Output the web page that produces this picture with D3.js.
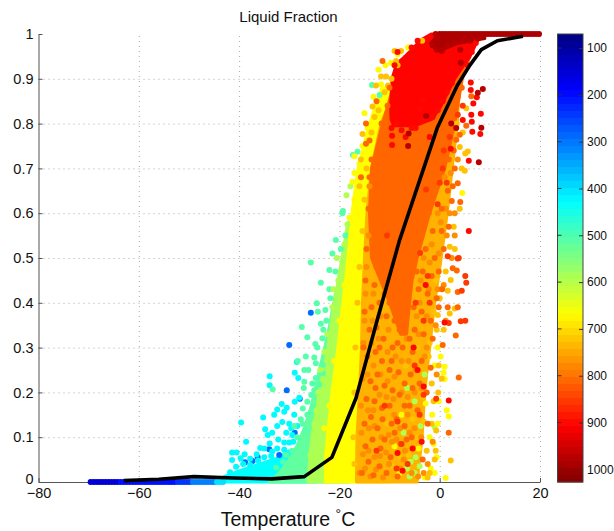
<!DOCTYPE html>
<html>
<head>
<meta charset="utf-8">
<script src="https://cdn.jsdelivr.net/npm/d3@7"></script>
<style>
  body { margin: 0; background: #fff; }
  text { font-family: "Liberation Sans", Arial, sans-serif; fill: #111; }
</style>
</head>
<body>
<div id="chart"></div>
<script>
// mean curve
const meanT  = [-63, -56, -49, -41, -33.5, -27, -21.5, -16.7, -12.5, -8, -3.5, -0.5, 3.5, 6, 8.3, 11.5, 16.6];
const meanLF = [0.003, 0.006, 0.012, 0.009, 0.007, 0.012, 0.055, 0.187, 0.36, 0.54, 0.69, 0.79, 0.885, 0.93, 0.965, 0.985, 0.995];

const xTicks = [-80, -60, -40, -20, 0, 20];
const yTicks = [0, 0.1, 0.2, 0.3, 0.4, 0.5, 0.6, 0.7, 0.8, 0.9, 1];
const cbTicks = [100, 200, 300, 400, 500, 600, 700, 800, 900, 1000];
const pressureRange = [70, 1027];

// where the dots overlap completely: outline of each solid patch, [liquid fraction, left T, right T], pressure
const bands = [
  { p: 430, rows: [[0, -43.5, -25], [0.012, -43, -25], [0.025, -40, -25], [0.04, -36, -25], [0.055, -32, -25], [0.07, -30, -25]] },
  { p: 520, rows: [[0, -34, -18], [0.02, -32, -18], [0.05, -30, -18], [0.08, -28.5, -18], [0.12, -27, -18], [0.17, -25.6, -18], [0.25, -24, -18], [0.33, -22.3, -17], [0.42, -20.8, -16]] },
  { p: 590, rows: [[0, -26.3, -18], [0.1, -25.5, -18], [0.2, -24, -18], [0.3, -22.3, -18], [0.4, -21, -17], [0.5, -19.5, -16], [0.58, -18.3, -15]] },
  { p: 668, rows: [[0, -22.8, -10], [0.05, -22.8, -10], [0.1, -22.4, -10], [0.2, -21.5, -10], [0.3, -20.3, -10], [0.4, -19.3, -10], [0.5, -18.3, -10], [0.6, -17.5, -10], [0.7, -16.3, -10], [0.8, -14, -9], [0.88, -11.5, -8]] },
  { p: 740, rows: [[0, -16.6, -4.5], [0.1, -16.5, -3.5], [0.2, -16, -3], [0.3, -15.6, -2], [0.4, -15.4, -1], [0.5, -15, 0.3], [0.6, -14.5, 1.5], [0.7, -13.6, 2.5], [0.8, -11.7, 3.5], [0.9, -8, 4]] },
  { p: 812, rows: [[0.33, -7.8, -6.6], [0.4, -10, -6], [0.45, -11.8, -5.5], [0.5, -13.6, -4.5], [0.6, -14, -2], [0.7, -13.6, 1], [0.8, -11.4, 3], [0.9, -8.8, 4.5], [0.95, -7, 6]] },
  { p: 905, rows: [[0.795, -9.2, -5], [0.81, -9.7, -1.5], [0.84, -9.8, 0.3], [0.90, -9.5, 3], [0.934, -8.6, 5], [0.949, -7, 6], [0.987, -3.7, 7.6], [1, -1.7, 8]] },
  { p: 985, rows: [[0.964, -0.7, 0.3], [0.979, -1.8, 3.5], [0.99, -1, 9], [1, 0, 9]] }
];

// dots on the zero line and on the one line
const zeroDark  = [-69.6, -69, -68.4, -67.8, -67.2, -66.6, -66, -65.4, -64.8, -64.2];
const zeroBlue  = [-63.6, -63, -62.4, -61.8, -61.2, -60.6, -60, -59.4, -58.8, -58.2, -57.6, -57, -56.4, -55.8, -55.2, -54.6, -54, -53.4, -52.8];
const zeroMid   = [-52.2, -51.6, -51, -50.4, -49.8];
const zeroLight = [-49.2, -48.6, -48, -47.4, -46.8, -46.2, -45.6, -45];
const zeroCyan  = [-44.4, -43.8, -43.2];
const oneDark   = [0, 0.6, 1.2, 1.8, 2.4, 3, 3.6, 4.2, 4.8, 5.4, 6, 6.6, 7.2, 7.8, 8.4, 9, 9.6, 10.2, 10.8, 11.4, 12, 12.6, 13.2, 13.8, 14.4, 15, 15.6, 16.2, 16.8, 17.4, 18, 18.6, 19.2, 19.8];

// individual dots, [temperature, liquid fraction]
const dotsBlue = [[-38.8, .044], [-37.3, .047], [-36.3, .056], [-34, .073], [-32, .06], [-28.9, .11], [-27.9, .186], [-30, .306], [-30.5, .205], [-25.7, .378]];
const dotsCyan = [[-39.6, .133], [-38.6, .09], [-41.4, .066], [-40.5, .066], [-41.4, .049], [-38.9, .062], [-39.7, .053], [-35.8, .076], [-35, .075], [-34.8, .118], [-35.2, .144], [-33.9, .236], [-33.9, .216], [-34.3, .105], [-33.4, .11], [-33.9, .086], [-33, .15], [-32.4, .162], [-31.5, .174], [-30.5, .166], [-31, .157], [-32.4, .125], [-31.4, .134], [-30, .13], [-28.9, .244], [-28.2, .232], [-28.5, .268], [-28.9, .179], [-28, .188], [-29, .15], [-30.6, .11], [-29.4, .105], [-32.2, .095], [-31, .088], [-36.5, .062], [-37.8, .052], [-33.4, .068], [-41.8, .022], [-40.6, .034], [-39.2, .04], [-37.8, .038], [-36.2, .048], [-35, .055], [-33.6, .058], [-32.4, .075], [-31, .072], [-30, .088], [-29.2, .09], [-28.4, .125], [-29.6, .12]];
const dotsGreen = [[-33.3, .207], [-27.5, .346], [-26.4, .323], [-24.8, .308], [-23.4, .321], [-23.7, .353], [-24.3, .38], [-22.8, .384], [-24.5, .399], [-28.3, .27], [-26.7, .28], [-25, .278], [-24.7, .265], [-27, .25], [-26.2, .25], [-24.7, .232], [-23.3, .261], [-27, .224], [-27.1, .21], [-23.3, .243], [-24, .217], [-26.4, .179], [-27.3, .164], [-25, .205], [-25.3, .168], [-25.6, .194], [-25.7, .49], [-23.7, .445], [-22, .473], [-20.7, .54], [-19.3, .605], [-17.3, .73], [-16.4, .737], [-13.5, .886], [-12, .864], [-19.4, .6], [-18.8, .55], [-19.7, .52], [-21.8, .41], [-22.6, .36], [-27.7, .14], [-29, .125], [-26.8, .115], [-30.6, .06], [-29.4, .07], [-28.4, .1], [-27.4, .13], [-26.4, .15], [-25.4, .22], [-24.4, .3], [-23.2, .34], [-22, .43], [-20.8, .47], [-21.4, .51], [-32.6, .032], [-31.2, .045]];
const dotsLime = [[-18.4, .575], [-20.5, .5], [-19.6, .47], [-21.2, .43], [-22.4, .33], [-23, .29], [-23.8, .25], [-24.6, .16], [-6.5, .03], [-5.8, .045], [-5, .02], [-4.8, .055], [-6, .012], [-4, .035], [-7.2, .11], [-5, .18], [-3.8, .125], [-1, .122], [-6.5, .21], [-3, .24], [-18.6, .64], [-17.8, .66], [-25.8, .06], [-25, .13], [-24.2, .2], [-21.4, .39], [-20.2, .45], [-19, .53]];
const dotsYellow = [[-6.3, .97], [-9.7, .936], [-11.7, .888], [-15, .823], [-17, .727], [-17, .69], [-17.4, .67], [-17, .63], [-18, .59], [4.5, .645], [0.97, .257], [0.8, .244], [1, .23], [1.4, .16], [1.8, .146], [1.2, .009], [-1.2, .085], [-0.6, .055], [-1.8, .03], [-3, .01], [-2, .1], [-1.5, .15], [-2.8, .175], [-1, .26], [-0.4, .3], [-8, .02], [-9, .08], [-4.2, .075], [-7.6, .15], [-12.2, .92], [-13.2, .86], [-14.4, .79], [-15.4, .75], [-16, .71], [-16.6, .6], [-17.6, .55], [-18, .5], [-19, .44], [-20, .36], [-21, .27], [-22, .17], [-23, .12], [-10.8, .93], [-8.4, .955], [-1, .02], [-0.4, .13], [-0.2, .18], [0.2, .28]];
const dotsAmber = [[-9, .962], [-7.7, .962], [-8.7, .94], [-8.4, .93], [-11.7, .905], [-10.7, .905], [-10.3, .885], [-12.7, .885], [-3.5, .985], [-13.4, .838], [-13, .815], [-15.4, .777], [-15.7, .72], [-16, .66], [5.3, .834], [5, .695], [4, .61], [4, .748], [5.6, .738], [5.1, .733], [2, .525], [2.2, .451], [1.6, .427], [3, .387], [2, .376], [-0.4, .373], [0.4, .231], [2.2, .048], [-0.3, .2], [-0.7, .115], [-0.8, .07], [-2, .02], [-1.2, .18], [-0.6, .34], [0, .41], [-2.2, .28], [-3.3, .19], [-4.4, .1], [-2.6, .07], [-3.2, .135], [-6.2, .06], [-7.8, .055], [-9.2, .035], [-1.6, .22], [-2, .31], [-1.2, .38], [-0.8, .45], [-10.4, .13], [-5.4, .14], [-6.8, .26], [-4.5, .3], [-9.6, .9], [-11, .87], [-12.2, .83], [-13.6, .78], [-14.6, .7], [-15, .63], [-15.4, .56], [-16, .48], [-16.4, .4], [-16.8, .3], [-17, .2], [-17.2, .1], [-17, .04], [2.8, .57], [3, .52], [1.2, .47], [0.8, .34], [-0.2, .26], [-1, .05], [-2.4, .01], [-1.6, .13], [3.4, .8], [4.4, .7], [4.6, .78]];
const dotsDeep = [[-16, .02], [-14.9, .03], [-13.8, .012], [-12.7, .028], [-11.3, .01], [-10.1, .04], [-7.9, .03], [-6.9, .07], [-5.6, .02], [-4.3, .012], [-15.3, .062], [-14.2, .07], [-13, .055], [-11.9, .058], [-10.7, .066], [-9.5, .09], [-8.6, .095], [-7.2, .05], [-6, .11], [-3.7, .1], [-15.6, .11], [-14.1, .12], [-13, .125], [-11.6, .1], [-10.2, .105], [-9.1, .15], [-7.9, .12], [-6.4, .15], [-5, .12], [-15.7, .17], [-14.3, .16], [-13.2, .16], [-12, .195], [-10.6, .19], [-9.2, .185], [-7.6, .2], [-6.4, .19], [-5, .2], [-3.6, .21], [-15.4, .23], [-14.4, .24], [-13.2, .26], [-11.8, .24], [-10.4, .225], [-9, .235], [-7.6, .27], [-6.2, .27], [-4.8, .25], [-3, .28], [-15.2, .31], [-13.6, .31], [-12.2, .32], [-10.4, .29], [-8.8, .28], [-6.6, .32], [-4.2, .33], [-2.6, .3], [-15, .36], [-13.4, .36], [-11.8, .37], [-10.2, .34], [-4.6, .37], [-2.6, .37], [-0.8, .35], [-14.8, .42], [-13.2, .42], [-4, .4], [-2.2, .43], [-0.4, .43], [-14.6, .48], [-3.8, .45], [-2, .49], [-0.2, .51], [-14.2, .55], [-3.2, .5], [-1.6, .53], [0.2, .58], [1.2, .61], [-14, .66], [-0.4, .6], [1, .68], [2.2, .69], [2, .6], [3, .55], [2.4, .5], [1.4, .55], [3, .6], [3.6, .72], [0.8, .44], [1.2, .36], [-0.6, .24], [-1.4, .09], [-2.4, .04], [-3.2, .02]];
const dotsOrange = [[-14.7, .8], [-14, .762], [-14.7, .755], [-15.7, .68], [3.4, .472], [2.6, .477], [3.6, .424], [0.5, .43], [1.6, .39], [3.6, .39], [3.2, .327], [0.6, .306], [3.8, .233], [1.8, .11], [2.4, .627], [4.1, .625], [3.6, .667], [3.3, .764], [4, .775], [5.3, .795], [6.3, .861],
  [-15.5, .02], [-14.2, .045], [-13.2, .015], [-12, .035], [-14.8, .08], [-13.4, .095], [-11.8, .075], [-10.6, .02], [-9.8, .055], [-8.4, .012], [-15, .13], [-13.7, .145], [-12.4, .12], [-11, .095], [-9, .11], [-7.8, .085], [-6.6, .095], [-14.6, .185], [-13, .18], [-11.5, .165], [-10, .17], [-8.6, .14], [-7, .125], [-5.6, .1], [-3.4, .05], [-13.8, .225], [-12.4, .24], [-11, .215], [-9.4, .205], [-8, .195], [-6, .17], [-4.4, .16], [-2.4, .13], [-14.4, .28], [-12.8, .29], [-11.5, .27], [-10, .25], [-8.2, .245], [-5.8, .24], [-4, .22], [-2.6, .2], [-14, .34], [-12.6, .345], [-11.2, .32], [-9.4, .3], [-7.4, .3], [-5.4, .29], [-3.6, .27], [-1.8, .255], [-13.6, .39], [-12, .4], [-10.6, .37], [-5, .34], [-3.2, .33], [-1.4, .32], [-13, .44], [-5.2, .39], [-3.6, .38], [-1.8, .36], [-0.2, .39], [-4.2, .43], [-2.4, .42], [-0.6, .41], [-3.4, .47], [-1.6, .46], [-0.2, .47], [-2.8, .52], [-1, .5], [0.8, .52], [-1.4, .56], [0.4, .56], [1.8, .57], [0.4, .61], [1.6, .65], [2.6, .66], [3, .7], [1.8, .72], [2.8, .74], [-14.2, .61], [-14.6, .52], [-14.8, .45], [-15, .38], [-15.2, .3],
  [-12.6, .48], [-12, .3], [-11, .42], [-10, .4], [-9, .36], [-8, .34], [-7, .36], [-9.6, .27], [-8.4, .31], [-7, .22], [-5.4, .21], [-7, .17], [-9.6, .13], [-11.4, .14], [-12.8, .21], [-6, .32], [-4.6, .47], [-3.6, .55], [-2.2, .6], [-1, .65], [-0.2, .72], [0.6, .76], [1.8, .8], [2.6, .84], [3.6, .86], [4.4, .88], [-11.4, .94], [-13.6, .72], [-14, .68], [-12.6, .85], [-11.6, .8], [-10.4, .84], [-10, .88]];
const dotsRedOrange = [[1.6, .504], [3.6, .499], [5.1, .46], [5.3, .445], [4.4, .427], [3.8, .5], [1.8, .355], [4.2, .359], [5.1, .36], [-0.7, .186], [-3.2, .195], [-2.7, .653], [0, .668], [1.4, .668], [-10.5, .55], [-3.9, .511], [-4, .15], [-6.4, .04], [-7.6, .085], [-8.4, .135], [-5, .26], [-3.2, .36], [-2, .4], [-8.6, .03], [-11, .17], [-12.6, .07], [-4.8, .4], [-2.4, .46], [0.6, .7], [2, .77], [3.6, .82], [4.6, .84], [-0.4, .62], [0.8, .74]];
const dotsRed = [[8.2, .822], [6.3, .82], [4.6, .808], [6.4, .804], [8.1, .777], [6.5, .782], [5.8, .717], [6.2, .875], [6.2, .892], [7.4, .859], [6.7, .845], [2.2, .744], [5.8, .56], [0.97, .356], [1.8, .182], [-9.5, .773], [-9.5, .752], [-2, .77], [-4, .832], [-3.4, .853], [-3.2, .213], [-3.6, .09], [-5.4, .075], [-4.4, .25], [-7.4, .025], [-8.4, .065], [-2.8, .44], [-5.2, .3], [-9.6, .79], [-8.6, .8], [-7.6, .785], [-6.8, .77], [-5.6, .79], [-4.8, .79], [-3.6, .805], [-2.8, .81], [-1.4, .815], [-0.4, .83], [0.6, .85], [1.4, .87], [2.4, .89], [-8.4, .96], [-9, .93], [-5.6, .97], [-4.4, .985], [5.6, .93], [6.4, .96], [7.2, .98]];
const dotsDark = [[8.6, .877], [7.6, .869], [8.3, .791], [3.3, .79], [2.3, .8], [7.8, .714], [-6.2, .778], [-6.3, .75], [-2.7, .817], [4.2, .936], [4.1, .965], [-1.4, .975], [-0.6, .965], [0.4, .962], [1.6, .975], [3, .98], [4.6, .985], [6, .985], [-0.8, 1], [-0.4, .99], [7.6, .99]];

const dotSeries = [
  { p: 150, t: zeroDark }, { p: 205, t: zeroBlue }, { p: 240, t: zeroMid }, { p: 310, t: zeroLight }, { p: 400, t: zeroCyan },
  { p: 290, pts: dotsBlue }, { p: 425, pts: dotsCyan }, { p: 510, pts: dotsGreen }, { p: 595, pts: dotsLime },
  { p: 672, pts: dotsYellow }, { p: 725, pts: dotsAmber }, { p: 775, pts: dotsDeep }, { p: 810, pts: dotsOrange }, { p: 855, pts: dotsRedOrange },
  { p: 900, pts: dotsRed }, { p: 975, pts: dotsDark }, { p: 985, one: oneDark }
];

const width = 614, height = 531;
const plot = { left: 38.5, right: 540, top: 34, bottom: 482 };
const dotR = 3;

const svg = d3.select("#chart").append("svg")
  .attr("width", width)
  .attr("height", height)
  .style("display", "block");

const xScale = d3.scaleLinear().domain([-80, 20]).range([plot.left, plot.right]);
const yScale = d3.scaleLinear().domain([0, 1]).range([plot.bottom, plot.top]);

// jet colormap
const jet = d3.scaleLinear()
  .domain([0, 0.125, 0.375, 0.625, 0.875, 1])
  .range(["#000080", "#0000ff", "#00ffff", "#ffff00", "#ff0000", "#800000"])
  .clamp(true);
const pressureFrac = d3.scaleLinear().domain(pressureRange).range([0, 1]);
const colorOf = p => jet(pressureFrac(p));

// grid
const gridX = svg.append("g")
  .attr("transform", `translate(0,${plot.bottom})`)
  .call(d3.axisBottom(xScale).tickValues(xTicks.slice(1)).tickSize(-(plot.bottom - plot.top)).tickFormat(""));
const gridY = svg.append("g")
  .attr("transform", `translate(${plot.left},0)`)
  .call(d3.axisLeft(yScale).tickValues(yTicks.slice(1, -1)).tickSize(-(plot.right - plot.left)).tickFormat(""));
[gridX, gridY].forEach(g => {
  g.select(".domain").remove();
  g.selectAll("line").attr("stroke", "#aaa").attr("stroke-dasharray", "1,4");
});

// axes
const xAxis = svg.append("g")
  .attr("transform", `translate(0,${plot.bottom})`)
  .call(d3.axisBottom(xScale).tickValues(xTicks).tickSizeInner(-4).tickSizeOuter(0).tickPadding(6));
const yAxis = svg.append("g")
  .attr("transform", `translate(${plot.left},0)`)
  .call(d3.axisLeft(yScale).tickValues(yTicks).tickSizeInner(-4).tickSizeOuter(0).tickPadding(5).tickFormat(d => d));
[xAxis, yAxis].forEach(g => {
  g.selectAll(".domain, line").attr("stroke", "#555");
  g.selectAll("text").style("font-size", "14.5px").attr("fill", "#111");
});
// zero of the y axis sits a little higher so it clears -80
yAxis.selectAll("g.tick").filter(d => d === 0).select("text").attr("dy", "0.1em");

// solid patches
const bandArea = d3.area()
  .y(d => yScale(d[0]))
  .x0(d => xScale(d[1]))
  .x1(d => xScale(d[2]));

svg.append("g").selectAll("path")
  .data(bands)
  .join("path")
  .attr("d", d => bandArea(d.rows))
  .attr("fill", d => colorOf(d.p))
  .attr("stroke", d => colorOf(d.p))
  .attr("stroke-width", 3)
  .attr("stroke-linejoin", "round");

// dots
const dotLayer = svg.append("g");
dotSeries.forEach(s => {
  const pts = s.pts || (s.t ? s.t.map(t => [t, 0]) : s.one.map(t => [t, 1]));
  dotLayer.append("g").selectAll("circle")
    .data(pts)
    .join("circle")
    .attr("cx", d => xScale(d[0]))
    .attr("cy", d => yScale(d[1]))
    .attr("r", dotR)
    .attr("fill", colorOf(s.p));
});

// mean curve
const line = d3.line()
  .x(d => xScale(d))
  .y((d, i) => yScale(meanLF[i]));

svg.append("path")
  .attr("d", line(meanT))
  .attr("fill", "none")
  .attr("stroke", "#000")
  .attr("stroke-width", 3.6)
  .attr("stroke-linejoin", "round");

// titles
svg.append("text")
  .attr("x", 288.5)
  .attr("y", 22)
  .attr("text-anchor", "middle")
  .style("font-size", "15px")
  .text("Liquid Fraction");

const xLabel = svg.append("text")
  .attr("x", 288)
  .attr("y", 526)
  .attr("text-anchor", "middle")
  .style("font-size", "19.5px");
xLabel.append("tspan").text("Temperature ");
xLabel.append("tspan").attr("dy", -7).style("font-size", "14px").text("°");
xLabel.append("tspan").attr("dy", 7).text("C");

// colorbar
const cb = { left: 557.5, right: 583, top: 34, bottom: 482 };
const cbScale = d3.scaleLinear().domain(pressureRange).range([cb.top, cb.bottom]);
const cells = d3.range(64);
const cellPressure = d3.scaleLinear().domain([0, 64]).range(pressureRange);

svg.append("g").selectAll("rect")
  .data(cells)
  .join("rect")
  .attr("x", cb.left)
  .attr("width", cb.right - cb.left)
  .attr("y", d => cbScale(cellPressure(d)))
  .attr("height", d => cbScale(cellPressure(d + 1)) - cbScale(cellPressure(d)) + 0.5)
  .attr("fill", d => colorOf(cellPressure(d + 0.5)));

svg.append("rect")
  .attr("x", cb.left)
  .attr("y", cb.top)
  .attr("width", cb.right - cb.left)
  .attr("height", cb.bottom - cb.top)
  .attr("fill", "none")
  .attr("stroke", "#444");

const cbAxis = svg.append("g")
  .attr("transform", `translate(${cb.right},0)`)
  .call(d3.axisRight(cbScale).tickValues(cbTicks).tickSizeInner(-4).tickSizeOuter(0).tickPadding(4).tickFormat(d => d));
cbAxis.select(".domain").remove();
cbAxis.selectAll("line").attr("stroke", "#333");
cbAxis.selectAll("text").style("font-size", "12px").attr("fill", "#111");
svg.append("g").selectAll("line")
  .data(cbTicks)
  .join("line")
  .attr("x1", cb.left)
  .attr("x2", cb.left + 4)
  .attr("y1", d => cbScale(d))
  .attr("y2", d => cbScale(d))
  .attr("stroke", "#333");
</script>
</body>
</html>
